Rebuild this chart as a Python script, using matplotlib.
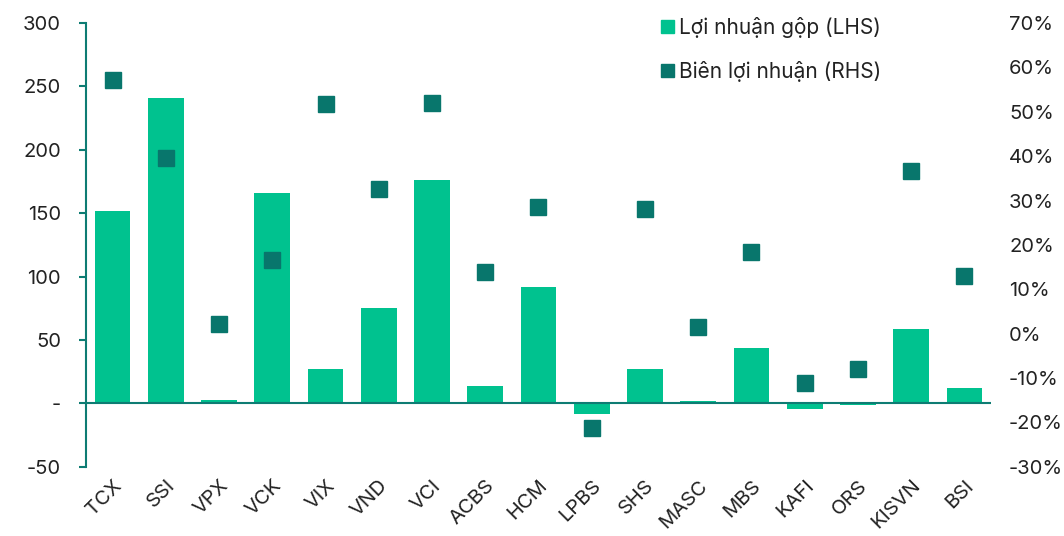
import matplotlib.pyplot as plt
from matplotlib.ticker import FuncFormatter, MultipleLocator
from matplotlib.patches import Patch

plt.rcParams["font.family"] = ["Inter", "DejaVu Sans"]

tickers = ["TCX", "SSI", "VPX", "VCK", "VIX", "VND", "VCI", "ACBS", "HCM",
           "LPBS", "SHS", "MASC", "MBS", "KAFI", "ORS", "KISVN", "BSI"]
gross_profit = [152, 241, 3, 166, 27, 75.5, 176, 14, 92, -8, 27, 2, 44, -4.5, -1, 59, 12.5]
margin = [57.1, 39.7, 2.1, 16.6, 51.8, 32.7, 52.0, 13.9, 28.6, -21.2, 28.1, 1.6,
          18.4, -11.1, -7.9, 36.7, 12.9]

BAR = "#00C28F"
DOT = "#08766C"
AXC = "#0E7C73"
TXT = "#222222"
FS = 14.5

fig = plt.figure(figsize=(10.64, 5.36), dpi=100)
ax = fig.add_axes([0.0808, 0.129, 0.8506, 0.828])
x = list(range(len(tickers)))
ax.bar(x, gross_profit, width=0.67, color=BAR, zorder=2)
ax.axhline(0, color=AXC, lw=1.5, zorder=3)
ax.set_xlim(-0.5, 16.5)
ax.set_ylim(-50, 300)
ax.yaxis.set_major_locator(MultipleLocator(50))
ax.yaxis.set_major_formatter(FuncFormatter(lambda v, _: "-" if v == 0 else f"{v:.0f}"))
for s in ["top", "right", "bottom"]:
    ax.spines[s].set_visible(False)
ax.spines["left"].set_color(AXC)
ax.spines["left"].set_linewidth(1.5)
ax.tick_params(axis="y", colors=AXC, length=5, width=1.5, pad=13, labelcolor=TXT, labelsize=FS)
ax.tick_params(axis="x", length=0, pad=7, labelcolor=TXT, labelsize=FS)
ax.set_xticks(x)
ax.set_xticklabels(tickers, rotation=45, ha="right", rotation_mode="anchor")

ax2 = ax.twinx()
ax2.plot(x, margin, ls="none", marker="s", ms=11, color=DOT, zorder=4)
ax2.set_ylim(-30, 70)
ax2.yaxis.set_major_locator(MultipleLocator(10))
ax2.yaxis.set_major_formatter(FuncFormatter(lambda v, _: f"{v:.0f}%"))
for s in ax2.spines.values():
    s.set_visible(False)
ax2.tick_params(axis="y", length=0, pad=13, labelcolor=TXT, labelsize=FS)

handles = [Patch(color=BAR), Patch(color=DOT)]
fig.legend(handles, ["Lợi nhuận gộp (LHS)", "Biên lợi nhuận (RHS)"],
           loc="upper left", bbox_to_anchor=(0.604, 1.003), frameon=False,
           fontsize=15, handlelength=0.6, handleheight=0.6, handletextpad=0.25,
           labelspacing=1.1, labelcolor=TXT)

fig.savefig("out.png", dpi=100)
